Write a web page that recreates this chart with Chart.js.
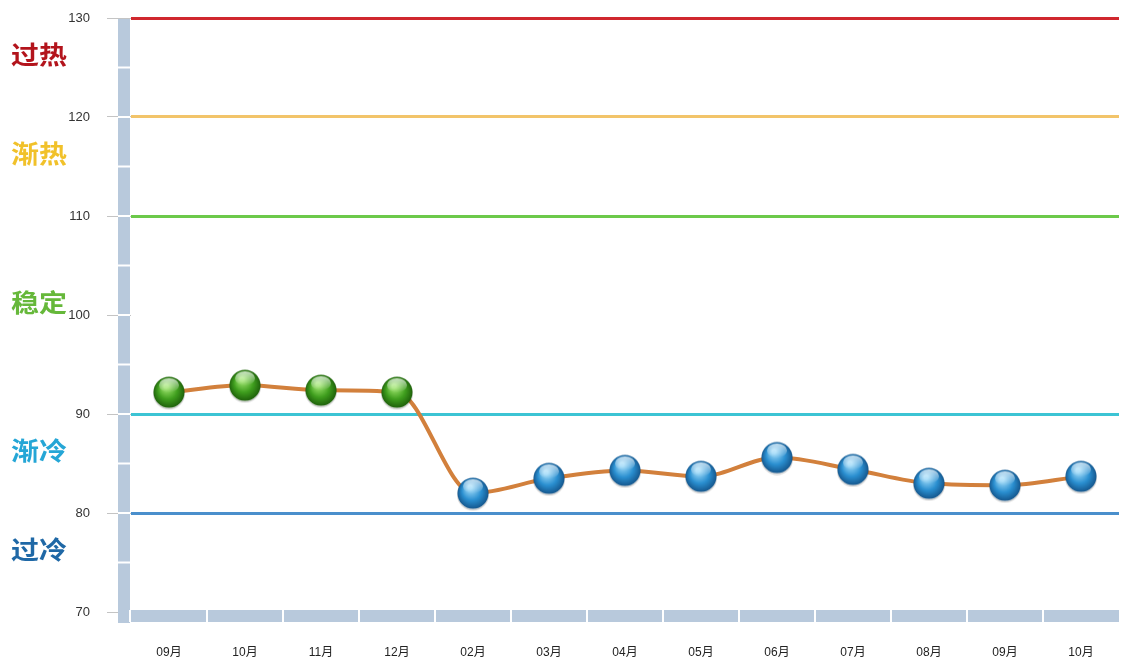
<!DOCTYPE html>
<html>
<head>
<meta charset="utf-8">
<script src="https://cdn.jsdelivr.net/npm/chart.js@4/dist/chart.umd.min.js"></script>
<style>
  html, body { margin: 0; padding: 0; background: #fff; overflow: hidden; }
  #wrap { width: 1121px; height: 664px; position: relative; }
  canvas { display: block; }
</style>
</head>
<body>
<div id="wrap"><canvas id="chart"></canvas></div>
<script>
// Data
let months = ["09月", "10月", "11月", "12月", "02月", "03月", "04月", "05月", "06月", "07月", "08月", "09月", "10月"];
let values = [92.2, 92.9, 92.4, 92.2, 82.0, 83.5, 84.3, 83.7, 85.6, 84.4, 83.0, 82.8, 83.7];

let yTicks = [70, 80, 90, 100, 110, 120, 130];
let thresholdValues = [130, 120, 110, 90, 80];
let thresholdColors = ["#d0282e", "#f2c46a", "#6cc94a", "#3cc4d4", "#4a8fcc"];

let zoneNames = ["过热", "渐热", "稳定", "渐冷", "过冷"];
let zoneLow = [120, 110, 90, 80, 70];
let zoneHigh = [130, 120, 110, 90, 80];
let zoneColors = ["#b3141c", "#f1c12a", "#66b83a", "#25a6d6", "#1f68a6"];

// Glossy ball sprites
function makeBall(light, mid, dark) {
    let c = document.createElement("canvas");
    c.width = 36;
    c.height = 36;
    let g = c.getContext("2d");

    g.fillStyle = "rgba(0, 0, 0, 0.15)";
    g.beginPath();
    g.arc(18, 19.5, 16, 0, Math.PI * 2);
    g.fill();

    let grad = g.createRadialGradient(15, 12, 2, 18, 18, 16);
    grad.addColorStop(0, light);
    grad.addColorStop(0.55, mid);
    grad.addColorStop(1, dark);
    g.fillStyle = grad;
    g.beginPath();
    g.arc(18, 18, 15.5, 0, Math.PI * 2);
    g.fill();

    let gloss = g.createLinearGradient(0, 4, 0, 17);
    gloss.addColorStop(0, "rgba(255, 255, 255, 0.75)");
    gloss.addColorStop(1, "rgba(255, 255, 255, 0.05)");
    g.fillStyle = gloss;
    g.beginPath();
    g.ellipse(18, 11, 10, 7, 0, 0, Math.PI * 2);
    g.fill();
    return c;
}

let greenBall = makeBall("#9be36a", "#3f9e1e", "#1d5e0a");
let blueBall = makeBall("#9ad8f8", "#2a8fd0", "#14548a");

// Wall, floor and zone labels
let decorPlugin = {
    id: "decor",
    beforeDatasetsDraw(chart) {
        let ctx = chart.ctx;
        let area = chart.chartArea;
        let x = chart.scales.x;
        let y = chart.scales.y;
        ctx.save();
        ctx.fillStyle = "#b8c9dc";
        ctx.fillRect(area.left - 13, area.top + 1, 12, area.bottom - area.top + 10);
        ctx.fillRect(area.left - 13, area.bottom - 2, area.right - area.left + 13, 12);

        ctx.fillStyle = "#ffffff";
        for (let v = 75; v <= 125; v += 5) {
            let py = y.getPixelForValue(v);
            ctx.fillRect(area.left - 13, py - 1, 12, 2);
        }
        let step = (area.right - area.left) / months.length;
        ctx.fillRect(area.left - 2, area.bottom - 2, 2, 12);
        for (let i = 0; i < months.length - 1; i++) {
            let px = x.getPixelForValue(i) + step / 2;
            ctx.fillRect(px - 1, area.bottom - 2, 2, 12);
        }

        ctx.font = "bold 25px 'Noto Sans CJK SC', sans-serif";
        ctx.textBaseline = "middle";
        ctx.textAlign = "left";
        zoneNames.forEach(function (name, i) {
            let py = y.getPixelForValue((zoneLow[i] + zoneHigh[i]) / 2) - 13;
            ctx.save();
            ctx.translate(11, py);
            ctx.scale(1.12, 1);
            ctx.fillStyle = zoneColors[i];
            ctx.fillText(name, 0, 0);
            ctx.restore();
        });
        ctx.restore();
    }
};

new Chart(document.getElementById("chart").getContext("2d"), {
    type: "line",
    data: {
        labels: months,
        datasets: [{
            data: values,
            borderColor: "#d2803c",
            borderWidth: 4,
            cubicInterpolationMode: "monotone",
            pointStyle: function (c) {
                return c.raw >= 90 ? greenBall : blueBall;
            },
            pointRadius: 15,
            pointHoverRadius: 15
        }]
    },
    options: {
        responsive: true,
        maintainAspectRatio: false,
        animation: false,
        layout: {
            autoPadding: false,
            padding: { top: 18, right: 2, left: 0, bottom: 0 }
        },
        plugins: {
            legend: { display: false },
            tooltip: { enabled: false }
        },
        scales: {
            x: {
                offset: true,
                border: { display: false },
                grid: { display: false, drawTicks: false },
                ticks: {
                    padding: 33,
                    color: "#222",
                    font: { size: 12, family: "'Liberation Sans', 'Noto Sans CJK SC', sans-serif" }
                },
                afterFit: function (scale) {
                    scale.height = 52;
                    scale.paddingLeft = 0;
                    scale.paddingRight = 0;
                }
            },
            y: {
                min: 70,
                max: 130,
                afterBuildTicks: function (scale) {
                    scale.ticks = yTicks.map(function (v) { return { value: v }; });
                },
                border: { display: false },
                grid: {
                    lineWidth: 3,
                    tickLength: 24,
                    tickWidth: 1,
                    tickColor: "#c4c4c4",
                    color: function (c) {
                        let i = thresholdValues.indexOf(c.tick.value);
                        return i >= 0 ? thresholdColors[i] : "rgba(0, 0, 0, 0)";
                    }
                },
                ticks: {
                    padding: 17,
                    color: "#333",
                    font: { size: 13, family: "'Liberation Sans', sans-serif" }
                },
                afterFit: function (scale) {
                    scale.width = 131;
                    scale.paddingTop = 0;
                    scale.paddingBottom = 0;
                }
            }
        }
    },
    plugins: [decorPlugin]
});
</script>
</body>
</html>
